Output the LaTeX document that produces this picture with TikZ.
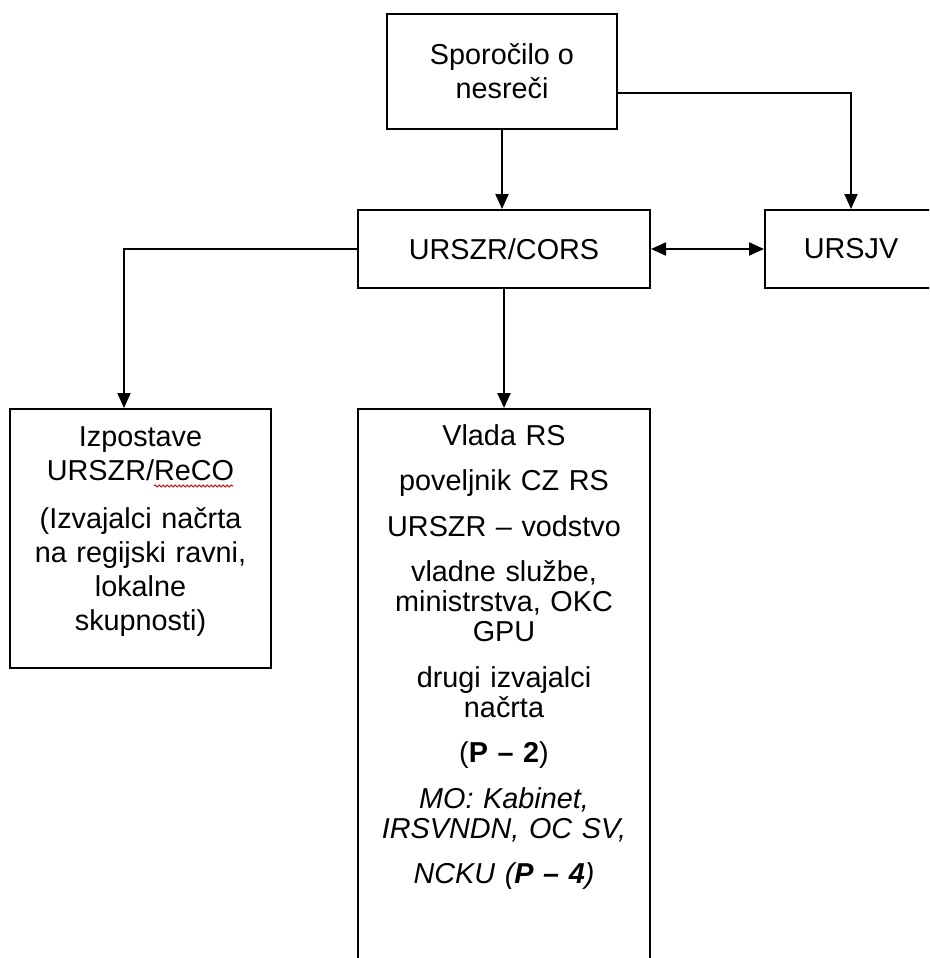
\documentclass[tikz,border=0pt]{standalone}
\usepackage{fontspec}
\setmainfont{Liberation Sans}
\usetikzlibrary{arrows.meta,decorations.pathmorphing}
\tikzset{
  box/.style={draw, line width=2pt, inner sep=0pt, align=center},
  arr/.style={line width=2pt, -{Triangle[length=15pt,width=13pt]}},
  twoarr/.style={line width=2pt, {Triangle[length=15pt,width=13pt]}-{Triangle[length=15pt,width=13pt]}},
}
\newcommand{\txt}[1]{\fontsize{28.8pt}{#1}\selectfont}

\begin{document}
\begin{tikzpicture}[x=1pt, y=-1pt]
\useasboundingbox (0,0) rectangle (929,958);
\clip (0,0) rectangle (929,958);
\node[box, minimum width=230pt, minimum height=115pt, font=\txt{34pt}] (spor) at (502,71.5) {Sporočilo o\\nesreči};
\node[box, minimum width=292pt, minimum height=78pt, font=\txt{34pt}] (cors) at (504,249) {URSZR/CORS};
\node[box, minimum width=172pt, minimum height=78pt, font=\txt{34pt}] (ursjv) at (851,249) {URSJV};
\node[box, anchor=north, text width=261pt, text height=37pt, text depth=222pt, font=\txt{34pt}] (izp) at (140.5,408)
  {Izpostave\\URSZR/ReCO\\[14pt](Izvajalci načrta\\na regijski ravni,\\lokalne\\skupnosti)};
\node[box, anchor=north, text width=292pt, text height=36pt, text depth=700pt, font=\txt{30pt}] (vlada) at (504,408)
  {Vlada RS\\[15.5pt]
   poveljnik CZ RS\\[15.5pt]
   URSZR – vodstvo\\[15.5pt]
   vladne službe,\\ministrstva, OKC\\GPU\\[15.5pt]
   drugi izvajalci\\načrta\\[15.5pt]
   (\textbf{P – 2})\\[15.5pt]
   \textit{MO: Kabinet,}\\\textit{IRSVNDN, OC SV,}\\[15.5pt]
   \textit{NCKU (\textbf{P – 4})}};
\draw[arr] (spor.south) -- (spor.south |- cors.north);
\draw[arr] ([yshift=-21.5pt]spor.east) -| (ursjv.north);
\draw[twoarr] (cors) -- (ursjv);
\draw[arr] (cors.west) -| ([xshift=-16.5pt]izp.north);
\draw[arr] (cors.south) -- (vlada.north);
\draw[red!85!black, line width=1pt, decorate, decoration={snake, amplitude=1pt, segment length=4pt}] (154,486) -- (233,486);
\end{tikzpicture}
\end{document}
